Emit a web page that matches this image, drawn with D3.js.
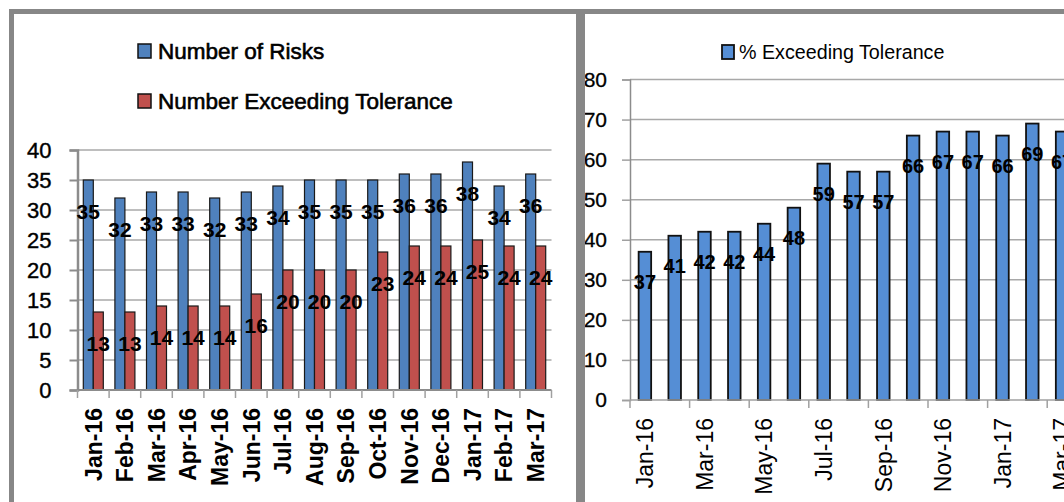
<!DOCTYPE html>
<html><head><meta charset="utf-8">
<script src="https://cdn.jsdelivr.net/npm/d3@7"></script>
<style>
html,body{margin:0;padding:0;background:#fff;}
svg{display:block;}
text{font-family:"Liberation Sans",Arial,sans-serif;fill:#000;}
</style></head>
<body>
<script>
const months = ["Jan-16","Feb-16","Mar-16","Apr-16","May-16","Jun-16","Jul-16","Aug-16","Sep-16","Oct-16","Nov-16","Dec-16","Jan-17","Feb-17","Mar-17"];
const numberOfRisks = [35,32,33,33,32,33,34,35,35,35,36,36,38,34,36];
const numberExceeding = [13,13,14,14,14,16,20,20,20,23,24,24,25,24,24];
const pctExceeding = [37,41,42,42,44,48,59,57,57,66,67,67,66,69,67];
const leftTicks = [0,5,10,15,20,25,30,35,40];
const rightTicks = [0,10,20,30,40,50,60,70,80];
const seriesNames = ["Number of Risks","Number Exceeding Tolerance"];
const rightSeriesName = "% Exceeding Tolerance";

const W = 1064, H = 502;
const BLUE = "#4F81BD", RED = "#C0504D", BLUE2 = "#558ED5";
const GRID = "#a8a8a8", FRAME = "#878787";

const svg = d3.select("body").append("svg").attr("width", W).attr("height", H);

// ---------- LEFT CHART ----------
const L = {x0: 77.5, x1: 551.5, y0: 390, y1: 150};
const xL = d3.scaleBand().domain(months).range([L.x0, L.x1]).padding(0);
const xLs = d3.scaleBand().domain([0,1]).range([0, xL.bandwidth()]).paddingInner(0).paddingOuter(0.58);
const yL = d3.scaleLinear().domain([0,40]).range([L.y0, L.y1]);

const gL = svg.append("g");
gL.append("g").selectAll("line").data(leftTicks.filter(t=>t>0)).join("line")
  .attr("x1", L.x0).attr("x2", L.x1).attr("y1", d=>yL(d)).attr("y2", d=>yL(d))
  .attr("stroke", GRID).attr("stroke-width", 1.5);
const yAxL = d3.axisLeft(yL).tickValues(leftTicks).tickSize(8).tickPadding(18).tickFormat(d3.format("d"));
const gyL = gL.append("g").attr("transform", `translate(${L.x0},0)`).call(yAxL);
gyL.select(".domain").attr("stroke", "#8c8c8c").attr("stroke-width", 2.5);
gyL.selectAll(".tick line").attr("stroke", "#8c8c8c").attr("stroke-width", 2);
gyL.selectAll(".tick text").attr("font-size", 22).attr("font-family", "Liberation Sans").attr("fill","#000").attr("x", -26).style("stroke","#000").style("stroke-width","0.4px");

const gb = gL.append("g");
months.forEach((m,i)=>{
  [numberOfRisks[i], numberExceeding[i]].forEach((v,s)=>{
    gb.append("rect")
      .attr("x", xL(m)+xLs(s)).attr("width", xLs.bandwidth())
      .attr("y", yL(v)).attr("height", yL(0)-yL(v))
      .attr("fill", s===0?BLUE:RED).attr("stroke", "#1a1a1a").attr("stroke-width", 1.2);
  });
});
gL.append("line").attr("x1", L.x0).attr("x2", L.x1).attr("y1", L.y0).attr("y2", L.y0).attr("stroke", "#8c8c8c").attr("stroke-width", 2);
const bL = months.map(m=>xL(m)).concat([xL(months[months.length-1])+xL.bandwidth()]);
gL.append("g").selectAll("line").data(bL).join("line")
  .attr("x1", d=>d).attr("x2", d=>d).attr("y1", L.y0).attr("y2", L.y0+8).attr("stroke", "#a0a0a0").attr("stroke-width", 1.5);
gL.append("g").selectAll("text").data(months).join("text")
  .attr("transform", d=>`translate(${xL(d)+xL.bandwidth()/2},${L.y0+18}) rotate(-90)`)
  .attr("text-anchor","end").attr("dy","0.36em")
  .attr("font-size", 23).attr("font-weight","bold").text(d=>d);
const gdl = gL.append("g");
months.forEach((m,i)=>{
  [numberOfRisks[i], numberExceeding[i]].forEach((v,s)=>{
    gdl.append("text")
      .attr("x", xL(m)+xLs(s)+xLs.bandwidth()/2).attr("y", yL(v)+31).attr("dy","0.36em")
      .attr("text-anchor","middle").attr("font-size", 21).attr("font-weight","bold").text(v);
  });
});
const gleg = gL.append("g");
seriesNames.forEach((n,i)=>{
  const cy = 51 + i*50;
  gleg.append("rect").attr("x",138).attr("y",cy-7).attr("width",13).attr("height",14)
    .attr("fill", i===0?BLUE:RED).attr("stroke","#111").attr("stroke-width",1.5);
  gleg.append("text").attr("x",158).attr("y",cy).attr("dy","0.36em").attr("font-size",22.5)
    .style("stroke","#000").style("stroke-width","0.6px").text(n);
});

// ---------- RIGHT CHART ----------
const R = {x0: 630, step: 29.8, y0: 400, y1: 79.5};
const xR = d3.scaleBand().domain(months).range([R.x0, R.x0 + R.step*months.length]).paddingInner(0.58).paddingOuter(0.29);
const yR = d3.scaleLinear().domain([0,80]).range([R.y0, R.y1]);
const gR = svg.append("g");
gR.append("g").selectAll("line").data(rightTicks.filter(t=>t>0)).join("line")
  .attr("x1", R.x0).attr("x2", W).attr("y1", d=>yR(d)).attr("y2", d=>yR(d))
  .attr("stroke", GRID).attr("stroke-width", 1.5);
const yAxR = d3.axisLeft(yR).tickValues(rightTicks).tickSize(8).tickPadding(15).tickFormat(d3.format("d"));
const gyR = gR.append("g").attr("transform", `translate(${R.x0},0)`).call(yAxR);
gyR.select(".domain").attr("stroke", "#8c8c8c").attr("stroke-width", 1.5);
gyR.selectAll(".tick line").attr("stroke", "#a0a0a0").attr("stroke-width", 1.5);
gyR.selectAll(".tick text").attr("font-size", 21).attr("font-family", "Liberation Sans").attr("fill","#000").attr("x",-23).style("stroke","#000").style("stroke-width","0.3px");

gR.append("g").selectAll("rect").data(months).join("rect")
  .attr("x", d=>xR(d)).attr("width", xR.bandwidth())
  .attr("y", (d,i)=>yR(pctExceeding[i])).attr("height", (d,i)=>yR(0)-yR(pctExceeding[i]))
  .attr("fill", BLUE2).attr("stroke","#111").attr("stroke-width",1.8);
gR.append("line").attr("x1", R.x0).attr("x2", W).attr("y1", R.y0).attr("y2", R.y0).attr("stroke", "#a0a0a0").attr("stroke-width", 1.5);
const bR = months.filter((m,i)=>i%2===0).map(m=>xR(m) - (xR.step()-xR.bandwidth())/2);
gR.append("g").selectAll("line").data(bR).join("line")
  .attr("x1", d=>d).attr("x2", d=>d).attr("y1", R.y0).attr("y2", R.y0+8).attr("stroke", "#a0a0a0").attr("stroke-width", 1.5);
gR.append("g").selectAll("text").data(months.filter((m,i)=>i%2===0)).join("text")
  .attr("transform", d=>`translate(${xR(d)+xR.bandwidth()/2},${R.y0+18}) rotate(-90)`)
  .attr("text-anchor","end").attr("dy","0.36em")
  .attr("font-size", 23).text(d=>d);
gR.append("g").selectAll("text").data(months).join("text")
  .attr("x", d=>xR(d)+xR.bandwidth()/2).attr("y", (d,i)=>yR(pctExceeding[i])+30).attr("dy","0.36em")
  .attr("text-anchor","middle").attr("font-size", 20).attr("font-weight","bold").text((d,i)=>pctExceeding[i]);
gR.append("rect").attr("x",722).attr("y",45).attr("width",12).attr("height",14)
  .attr("fill", BLUE2).attr("stroke","#111").attr("stroke-width",1.8);
gR.append("text").attr("x",739).attr("y",52).attr("dy","0.36em").attr("font-size",19.7).text(rightSeriesName);

// ---------- FRAME ----------
svg.append("rect").attr("x",9).attr("y",9).attr("width",W-9).attr("height",5).attr("fill",FRAME);
svg.append("rect").attr("x",9).attr("y",9).attr("width",5).attr("height",H-9).attr("fill",FRAME);
svg.append("rect").attr("x",576).attr("y",9).attr("width",9).attr("height",H-9).attr("fill",FRAME);
</script>
</body></html>
